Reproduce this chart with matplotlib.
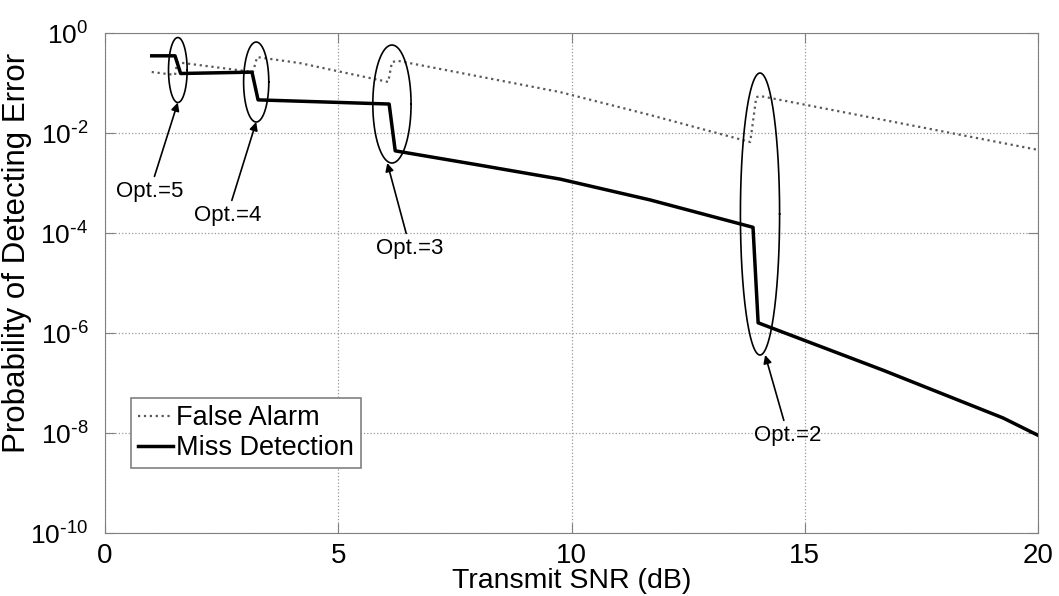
import numpy as np
import matplotlib
matplotlib.use("Agg")
import matplotlib.pyplot as plt

plt.rcParams['font.family'] = ['Liberation Sans', 'DejaVu Sans']
plt.rcParams['mathtext.default'] = 'regular'

# SNR (dB) and error probabilities
snr_fa = [1.0, 1.5, 1.55, 3.17, 3.26, 4.18, 6.07, 6.15, 6.26, 9.75, 11.68, 13.83, 13.96, 14.04, 20.0]
p_fa = [0.166, 0.145, 0.26, 0.166, 0.33, 0.25, 0.105, 0.26, 0.28, 0.066, 0.023, 0.0066, 0.052, 0.055, 0.0046]

snr_md = [1.0, 1.5, 1.62, 3.15, 3.28, 6.09, 6.22, 8.0, 9.75, 11.68, 13.89, 14.0, 16.68, 19.25, 20.0]
p_md = [0.35, 0.35, 0.155, 0.165, 0.046, 0.038, 0.0044, 0.0023, 0.0012, 4.6e-4, 1.3e-4, 1.6e-6, 1.8e-7, 2.0e-8, 9.0e-9]

# ellipses: centre x, centre log10(y), half width (dB), half height (decades)
ell_cx = [1.56, 3.24, 6.15, 14.04]
ell_cy = [-0.74, -0.98, -1.42, -3.62]
ell_w = [0.2, 0.27, 0.41, 0.42]
ell_h = [0.65, 0.8, 1.18, 2.82]

opt_labels = ['Opt.=5', 'Opt.=4', 'Opt.=3', 'Opt.=2']
opt_text_x = [0.96, 2.62, 6.54, 14.64]
opt_text_y = [-3.16, -3.64, -4.3, -8.04]
opt_head_x = [1.56, 3.24, 6.05, 14.15]

xticks = [0, 5, 10, 15, 20]
yexp = [0, -2, -4, -6, -8, -10]

fig = plt.figure(figsize=(10.59, 5.96), dpi=100)
ax = fig.add_axes([0.0992, 0.1057, 0.8810, 0.8389])

ax.plot(snr_fa, p_fa, linestyle=':', color='0.35', linewidth=1.6, label='False Alarm')
ax.plot(snr_md, p_md, linestyle='-', color='black', linewidth=2.5, label='Miss Detection')

t = np.linspace(0, 2 * np.pi, 200)
for cx, cy, w, h in zip(ell_cx, ell_cy, ell_w, ell_h):
    ax.plot(cx + w * np.cos(t), 10 ** (cy + h * np.sin(t)), color='black', linewidth=1.2)

for lab, tx, ty, hx, cy, h in zip(opt_labels, opt_text_x, opt_text_y, opt_head_x, ell_cy, ell_h):
    ax.annotate(lab, xy=(hx, 10 ** (cy - h)), xytext=(tx, 10 ** ty),
                ha='center', va='center', fontsize=16,
                arrowprops=dict(arrowstyle='-|>', color='black', lw=1.2,
                                mutation_scale=12, shrinkA=1, shrinkB=0))

ax.set_yscale('log')
ax.set_xlim(0, 20)
ax.set_ylim(1e-10, 1)
ax.set_xticks(xticks)
ylabels = ['$10^{%s}$' % (str(e) if e == 0 else '\\text{-}%d' % -e) for e in yexp]
ax.set_yticks([10.0 ** e for e in yexp], ylabels)
ax.minorticks_off()
ax.tick_params(direction='in', length=7, color='0.5', labelsize=20,
               top=True, right=True)
ax.tick_params(axis='x', pad=7)
ax.tick_params(axis='y', pad=12, labelsize=19)
for s in ax.spines.values():
    s.set_color('0.5')
ax.grid(True, linestyle=':', color='0.6', linewidth=0.9)

ax.set_xlabel('Transmit SNR (dB)', fontsize=20.5)
ax.xaxis.set_label_coords(0.5, -0.07)
ax.set_ylabel('Probability of Detecting Error', fontsize=22.5)
ax.yaxis.set_label_coords(-0.078, 0.56)

leg = ax.legend(loc='lower left', bbox_to_anchor=(0.028, 0.13), borderaxespad=0,
                fontsize=19.5, handlelength=1.3, handletextpad=0.1,
                borderpad=0.25, labelspacing=0.15, fancybox=False, framealpha=1)
leg.get_frame().set_edgecolor('0.5')
leg.get_frame().set_linewidth(1.2)

fig.savefig('out.png', dpi=100)
